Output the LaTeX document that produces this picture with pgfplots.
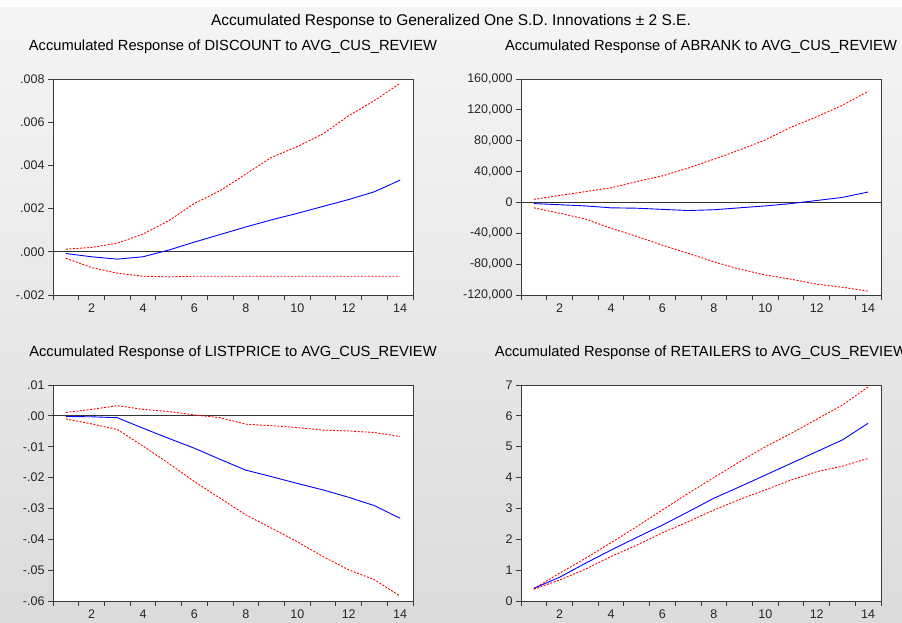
\documentclass[border=0pt]{standalone}
\usepackage{fontspec}
\setmainfont{Liberation Sans}
\usepackage{pgfplots}
\pgfplotsset{compat=1.18}

\definecolor{evblue}{RGB}{0,0,255}
\definecolor{evred}{RGB}{255,0,0}
\definecolor{evframe}{RGB}{60,60,60}

\pgfplotsset{
  irf/.style={
    scale only axis,
    width=360pt, height=216pt,
    xmin=0.5, xmax=14.5,
    scaled y ticks=false,
    axis background/.style={fill=white},
    axis line style={evframe, line width=0.9pt},
    tick style={evframe, line width=0.9pt},
    tick align=outside,
    major tick length=5pt,
    xtick pos=bottom, ytick pos=left,
    xtick={0.5,1.5,...,14.5},
    xticklabels={},
    extra x ticks={2,4,...,14},
    extra x tick labels={2,4,6,8,10,12,14},
    extra x tick style={major tick length=0pt, tick label style={yshift=-5pt}},
    tick label style={font=\fontsize{12.5}{14}\selectfont, text=black!85},
    title style={font=\fontsize{14.7}{17}\selectfont, at={(0.5,1)}, anchor=center, yshift=26pt},
    every axis plot/.append style={line width=0.9pt},
  },
  resp/.style={evblue, no markers},
  band/.style={evred, no markers, dash pattern=on 2pt off 1.5pt},
  zero/.style={black!80, no markers, line width=0.9pt},
}

\begin{document}
\begin{tikzpicture}[x=1pt,y=1pt]
\fill[white] (0,0) rectangle (902,623);
\shade[top color=black!4, bottom color=black!14] (0,0) rectangle (902,615);
\node[font=\fontsize{15.5}{18}\selectfont] at (451,601) {Accumulated Response to Generalized One S.D. Innovations ± 2 S.E.};

% top left
\begin{axis}[irf, at={(53pt,328pt)}, anchor=south west,
  title={Accumulated Response of DISCOUNT to AVG\_CUS\_REVIEW},
  ymin=-0.002, ymax=0.008,
  ytick={-0.002,0,0.002,0.004,0.006,0.008},
  yticklabels={-.002,.000,.002,.004,.006,.008}]
\addplot[zero] coordinates {(0.5,0) (14.5,0)};
\addplot[band] coordinates {(1,0.00012) (2,0.00020) (3,0.00040) (4,0.00082) (5,0.00144) (6,0.00224) (7,0.00283) (8,0.00360) (9,0.00437) (10,0.00487) (11,0.00546) (12,0.00630) (13,0.00700) (14,0.00780)};
\addplot[band] coordinates {(1,-0.00030) (2,-0.00073) (3,-0.00099) (4,-0.00113) (5,-0.00116) (6,-0.00113) (7,-0.00113) (8,-0.00113) (9,-0.00113) (10,-0.00113) (11,-0.00113) (12,-0.00113) (13,-0.00113) (14,-0.00113)};
\addplot[resp] coordinates {(1,-0.00008) (2,-0.00023) (3,-0.00034) (4,-0.00023) (5,0.00008) (6,0.00045) (7,0.00080) (8,0.00115) (9,0.00148) (10,0.00178) (11,0.00210) (12,0.00242) (13,0.00278) (14,0.00332)};
\end{axis}

% top right
\begin{axis}[irf, at={(521pt,328pt)}, anchor=south west,
  title={Accumulated Response of ABRANK to AVG\_CUS\_REVIEW},
  ymin=-120000, ymax=160000,
  ytick={-120000,-80000,-40000,0,40000,80000,120000,160000},
  yticklabels={{-120,000},{-80,000},{-40,000},0,{40,000},{80,000},{120,000},{160,000}}]
\addplot[zero] coordinates {(0.5,0) (14.5,0)};
\addplot[band] coordinates {(1,4000) (2,9000) (3,14000) (4,19000) (5,27000) (6,34500) (7,44500) (8,56000) (9,68000) (10,81000) (11,97500) (12,111000) (13,126000) (14,144000)};
\addplot[band] coordinates {(1,-7000) (2,-14000) (3,-21500) (4,-33500) (5,-44000) (6,-55500) (7,-66000) (8,-77000) (9,-86500) (10,-94000) (11,-99500) (12,-106000) (13,-110000) (14,-115000)};
\addplot[resp] coordinates {(1,-1500) (2,-3000) (3,-4500) (4,-7000) (5,-7500) (6,-9000) (7,-10500) (8,-9500) (9,-7000) (10,-4500) (11,-1500) (12,2500) (13,6500) (14,13500)};
\end{axis}

% bottom left
\begin{axis}[irf, at={(53pt,22pt)}, anchor=south west,
  title={Accumulated Response of LISTPRICE to AVG\_CUS\_REVIEW},
  ymin=-0.06, ymax=0.01,
  ytick={-0.06,-0.05,-0.04,-0.03,-0.02,-0.01,0,0.01},
  yticklabels={-.06,-.05,-.04,-.03,-.02,-.01,.00,.01}]
\addplot[zero] coordinates {(0.5,0) (14.5,0)};
\addplot[band] coordinates {(1,0.0011) (2,0.0021) (3,0.0033) (4,0.0021) (5,0.0014) (6,0.0003) (7,-0.0006) (8,-0.0027) (9,-0.0032) (10,-0.0038) (11,-0.0046) (12,-0.0049) (13,-0.0054) (14,-0.0067)};
\addplot[band] coordinates {(1,-0.0010) (2,-0.0026) (3,-0.0044) (4,-0.0098) (5,-0.0154) (6,-0.0213) (7,-0.0267) (8,-0.0321) (9,-0.0364) (10,-0.0408) (11,-0.0456) (12,-0.0499) (13,-0.0531) (14,-0.0584)};
\addplot[resp] coordinates {(1,-0.0002) (2,-0.0003) (3,-0.0006) (4,-0.0040) (5,-0.0073) (6,-0.0105) (7,-0.0141) (8,-0.0176) (9,-0.0197) (10,-0.0219) (11,-0.0240) (12,-0.0264) (13,-0.0291) (14,-0.0332)};
\end{axis}

% bottom right
\begin{axis}[irf, at={(521pt,22pt)}, anchor=south west,
  title={Accumulated Response of RETAILERS to AVG\_CUS\_REVIEW},
  ymin=0, ymax=7,
  ytick={0,1,...,7},
  yticklabels={0,1,2,3,4,5,6,7}]
\addplot[band] coordinates {(1,0.40) (2,0.90) (3,1.38) (4,1.89) (5,2.41) (6,2.95) (7,3.49) (8,4.00) (9,4.51) (10,5.00) (11,5.43) (12,5.89) (13,6.35) (14,6.94)};
\addplot[band] coordinates {(1,0.38) (2,0.68) (3,1.03) (4,1.44) (5,1.81) (6,2.21) (7,2.57) (8,2.95) (9,3.29) (10,3.60) (11,3.92) (12,4.19) (13,4.37) (14,4.62)};
\addplot[resp] coordinates {(1,0.41) (2,0.77) (3,1.22) (4,1.65) (5,2.06) (6,2.46) (7,2.89) (8,3.33) (9,3.70) (10,4.08) (11,4.46) (12,4.84) (13,5.22) (14,5.76)};
\end{axis}
\pgfresetboundingbox
\useasboundingbox (0,0) rectangle (902,623);
\end{tikzpicture}
\end{document}
